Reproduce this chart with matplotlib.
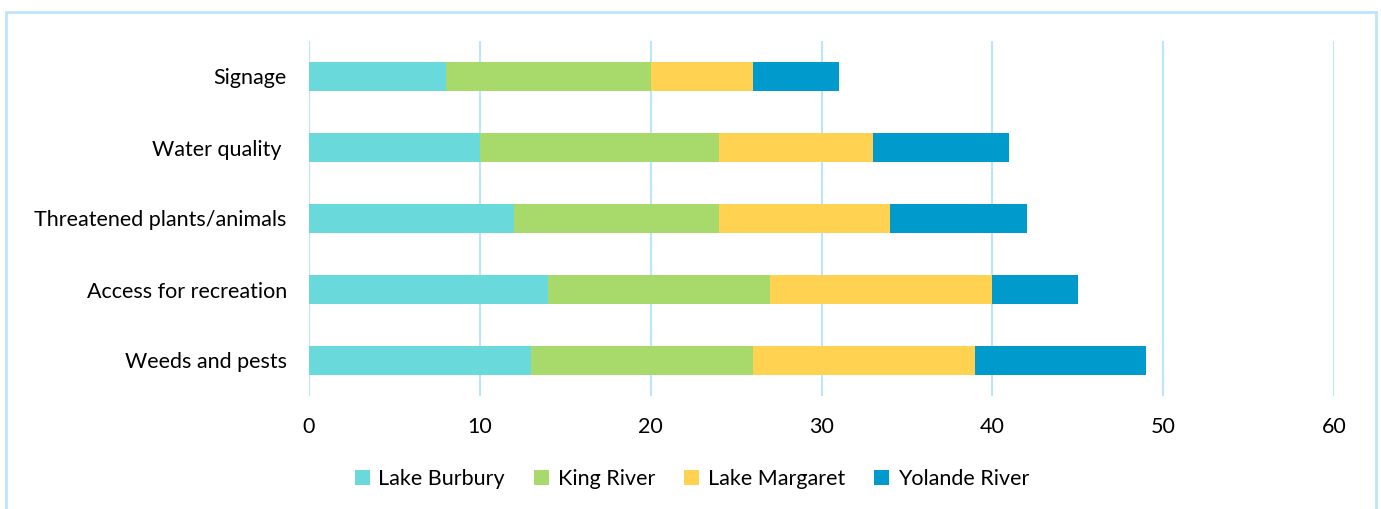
import matplotlib.pyplot as plt
from matplotlib.patches import Rectangle
import numpy as np

# Data
categories = ["Weeds and pests", "Access for recreation", "Threatened plants/animals",
              "Water quality ", "Signage"]
series_names = ["Lake Burbury", "King River", "Lake Margaret", "Yolande River"]
lake_burbury = [13, 14, 12, 10, 8]
king_river = [13, 13, 12, 14, 12]
lake_margaret = [13, 13, 10, 9, 6]
yolande_river = [10, 5, 8, 8, 5]
colors = ["#6AD9DC", "#A7D96B", "#FFD351", "#019ACC"]
x_ticks = [0, 10, 20, 30, 40, 50, 60]

plt.rcParams['font.family'] = ['Lato', 'DejaVu Sans']

fig = plt.figure(figsize=(13.81, 5.09), dpi=100)
ax = fig.add_axes([309 / 1381, 1 - 396 / 509, (1334 - 309) / 1381, (396 - 41) / 509])

y = np.arange(len(categories))
left = np.zeros(len(categories))
for name, vals, c in zip(series_names, [lake_burbury, king_river, lake_margaret, yolande_river], colors):
    ax.barh(y, vals, left=left, height=0.4, color=c, label=name, zorder=3)
    left += np.array(vals)

ax.set_xlim(0, 60)
ax.set_ylim(-0.5, len(categories) - 0.5)
ax.set_xticks(x_ticks)
ax.set_yticks(y)
ax.set_yticklabels(categories)
ax.tick_params(axis='both', length=0, labelsize=15.5, colors='black')
ax.tick_params(axis='x', pad=15)
ax.tick_params(axis='y', pad=16)
ax.grid(axis='x', color='#BDE5FA', linewidth=1.5, zorder=0)
for s in ax.spines.values():
    s.set_visible(False)

fig.legend(loc='center', bbox_to_anchor=(692 / 1381, 1 - 479 / 509), ncol=4, frameon=False,
           fontsize=15.5, handlelength=0.7, handleheight=0.7, handletextpad=0.4, columnspacing=1.35)

# light blue chart border (bottom runs off the image)
fig.patches.append(Rectangle((6 / 1381, -0.05), (1376 - 6) / 1381, 1 - 12 / 509 + 0.05,
                             transform=fig.transFigure, fill=False, edgecolor='#BDE5FA', linewidth=2))

fig.savefig("out.png", dpi=100)
